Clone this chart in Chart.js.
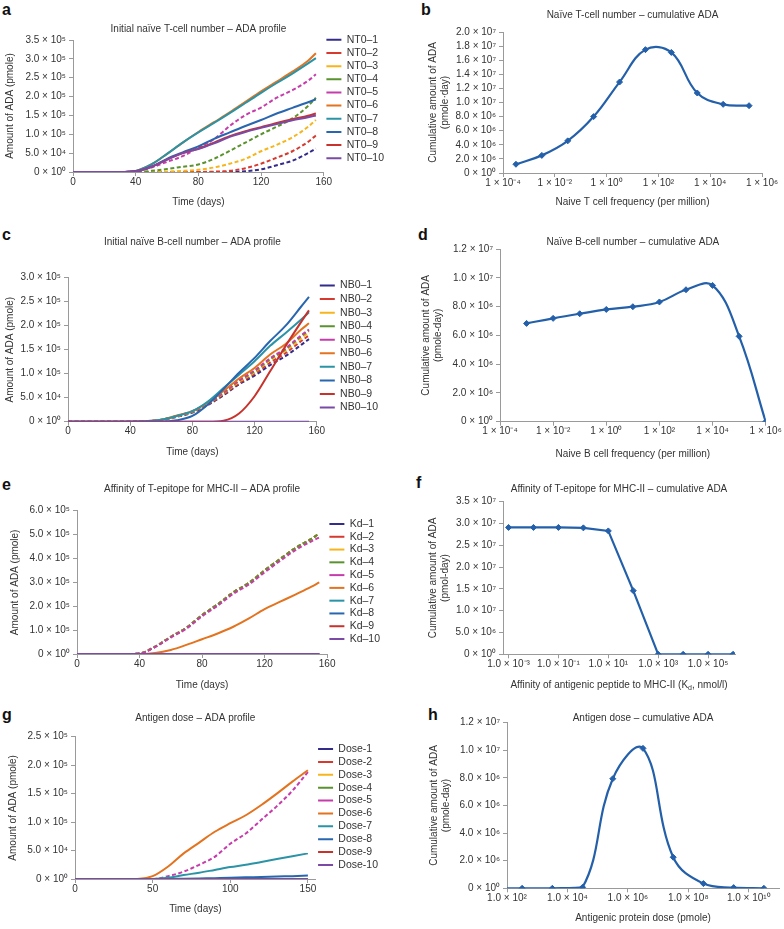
<!DOCTYPE html>
<html>
<head>
<meta charset="utf-8">
<script src="https://cdn.jsdelivr.net/npm/chart.js@4.4.1/dist/chart.umd.min.js"></script>
<style>
html, body { margin: 0; padding: 0; background: #fff; width: 784px; height: 929px; overflow: hidden; position: relative; }
canvas { position: absolute; }
.lt { position: absolute; font: bold 16px "Liberation Sans", Arial, sans-serif; line-height: 16px; color: #111; }
</style>
</head>
<body>
<div class="lt" style="left:2px;top:2px">a</div>
<div class="lt" style="left:421px;top:2px">b</div>
<div class="lt" style="left:2px;top:227px">c</div>
<div class="lt" style="left:418px;top:227px">d</div>
<div class="lt" style="left:2px;top:477px">e</div>
<div class="lt" style="left:416px;top:475px">f</div>
<div class="lt" style="left:2px;top:707px">g</div>
<div class="lt" style="left:428px;top:707px">h</div>

<canvas id="cA" width="394" height="222" style="left:0;top:-12px"></canvas>
<canvas id="cB" width="384" height="210" style="left:400px;top:0"></canvas>
<canvas id="cC" width="388" height="227" style="left:0;top:233px"></canvas>
<canvas id="cD" width="384" height="230" style="left:400px;top:232px"></canvas>
<canvas id="cE" width="390" height="223" style="left:0;top:470px"></canvas>
<canvas id="cF" width="384" height="213" style="left:400px;top:480px"></canvas>
<canvas id="cG" width="388" height="220" style="left:0;top:697px"></canvas>
<canvas id="cH" width="384" height="217" style="left:400px;top:709px"></canvas>

<script>
// --- time axes (days) ---
const tDays = [0, 10, 20, 30, 40, 50, 60, 70, 80, 90, 100, 110, 120, 130, 140, 150, 155];
const tDose = [0, 10, 20, 30, 40, 50, 60, 70, 80, 90, 100, 110, 120, 130, 140, 150];

// --- a: ADA (x1000 pmole) per initial naive T-cell number ---
const nt0Names = ['NT0–1', 'NT0–2', 'NT0–3', 'NT0–4', 'NT0–5', 'NT0–6', 'NT0–7', 'NT0–8', 'NT0–9', 'NT0–10'];
const nt0Values = [
  [0, 0, 0, 0, 0, 0, 0, 0, 0, 0, 0, 2, 7, 18, 30, 50, 62],
  [0, 0, 0, 0, 0, 0, 0, 0, 0, 1, 3, 10, 22, 38, 55, 80, 97],
  [0, 0, 0, 0, 0, 0, 1, 3, 6, 12, 22, 35, 55, 72, 92, 120, 138],
  [0, 0, 0, 0, 0, 3, 8, 14, 20, 35, 56, 78, 100, 120, 142, 175, 197],
  [0, 0, 0, 0, 2, 12, 27, 42, 65, 87, 122, 151, 171, 197, 217, 242, 259],
  [0, 0, 0, 0, 3, 20, 48, 78, 106, 132, 158, 186, 214, 240, 266, 295, 315],
  [0, 0, 0, 0, 3, 20, 48, 78, 105, 130, 156, 183, 210, 236, 261, 288, 302],
  [0, 0, 0, 0, 2, 14, 35, 52, 68, 88, 105, 122, 138, 155, 170, 185, 193],
  [0, 0, 0, 0, 2, 14, 33, 50, 62, 78, 95, 108, 119, 130, 140, 149, 155],
  [0, 0, 0, 0, 2, 14, 33, 50, 61, 76, 93, 106, 117, 127, 137, 145, 150]
];

// --- c: ADA (x1000 pmole) per initial naive B-cell number ---
const nb0Names = ['NB0–1', 'NB0–2', 'NB0–3', 'NB0–4', 'NB0–5', 'NB0–6', 'NB0–7', 'NB0–8', 'NB0–9', 'NB0–10'];
const nb0Values = [
  [0, 0, 0, 0, 0, 1, 3, 10, 19, 35, 55, 78, 96, 118, 137, 160, 172],
  [0, 0, 0, 0, 0, 1, 3, 11, 20, 36, 57, 80, 100, 123, 143, 168, 180],
  [0, 0, 0, 0, 0, 1, 4, 11, 21, 38, 59, 83, 103, 128, 148, 174, 186],
  [0, 0, 0, 0, 0, 1, 4, 12, 21, 38, 60, 85, 105, 130, 151, 178, 190],
  [0, 0, 0, 0, 0, 1, 4, 12, 22, 39, 61, 86, 107, 132, 153, 180, 192],
  [0, 0, 0, 0, 0, 1, 4, 13, 22, 40, 64, 90, 112, 140, 162, 192, 205],
  [0, 0, 0, 0, 0, 1, 4, 12, 22, 42, 70, 98, 126, 158, 185, 213, 228],
  [0, 0, 0, 0, 0, 0, 0, 3, 12, 36, 68, 102, 133, 168, 200, 240, 260],
  [0, 0, 0, 0, 0, 0, 0, 0, 0, 0, 2, 17, 53, 105, 158, 208, 232],
  [0, 0, 0, 0, 0, 0, 0, 0, 0, 0, 0, 0, 0, 0, 0, 0, 0]
];

// --- e: ADA (x1000 pmole) per T-epitope affinity ---
const kdNames = ['Kd–1', 'Kd–2', 'Kd–3', 'Kd–4', 'Kd–5', 'Kd–6', 'Kd–7', 'Kd–8', 'Kd–9', 'Kd–10'];
const kdValues = [
  [0, 0, 0, 0, 2, 31, 72, 110, 163, 208, 258, 298, 350, 398, 445, 482, 505],
  [0, 0, 0, 0, 2, 31, 72, 110, 163, 208, 258, 298, 350, 398, 445, 482, 505],
  [0, 0, 0, 0, 2, 31, 72, 110, 163, 208, 258, 298, 350, 398, 445, 482, 505],
  [0, 0, 0, 0, 2, 31, 72, 110, 163, 208, 258, 298, 350, 398, 445, 482, 505],
  [0, 0, 0, 0, 2, 29, 69, 106, 158, 202, 252, 291, 342, 390, 436, 472, 488],
  [0, 0, 0, 0, 0, 4, 17, 38, 62, 86, 114, 149, 188, 219, 250, 282, 300],
  [0, 0, 0, 0, 0, 0, 0, 0, 0, 0, 0, 0, 0, 0, 0, 0, 0],
  [0, 0, 0, 0, 0, 0, 0, 0, 0, 0, 0, 0, 0, 0, 0, 0, 0],
  [0, 0, 0, 0, 0, 0, 0, 0, 0, 0, 0, 0, 0, 0, 0, 0, 0],
  [0, 0, 0, 0, 0, 0, 0, 0, 0, 0, 0, 0, 0, 0, 0, 0, 0]
];

// --- g: ADA (x1000 pmole) per antigen dose ---
const doseNames = ['Dose-1', 'Dose-2', 'Dose-3', 'Dose-4', 'Dose-5', 'Dose-6', 'Dose-7', 'Dose-8', 'Dose-9', 'Dose-10'];
const doseValues = [
  [0, 0, 0, 0, 0, 0, 0, 0, 0, 0, 0, 0, 0, 0, 0, 0],
  [0, 0, 0, 0, 0, 0, 0, 0, 0, 0, 0, 0, 0, 0, 0, 0],
  [0, 0, 0, 0, 0, 0, 0, 0, 0, 0, 0, 0, 0, 0, 0, 0],
  [0, 0, 0, 0, 0, 0, 0, 0, 0, 0, 0, 0, 0, 0, 0, 0],
  [0, 0, 0, 0, 0, 0, 5, 13, 25, 39, 62, 80, 104, 128, 155, 188],
  [0, 0, 0, 0, 0, 5, 22, 45, 64, 83, 98, 112, 130, 150, 171, 191],
  [0, 0, 0, 0, 0, 0, 2, 7, 11, 16, 21, 25, 30, 35, 40, 45],
  [0, 0, 0, 0, 0, 0, 0, 0.5, 1, 1.5, 2, 3, 3.5, 4.5, 5, 6],
  [0, 0, 0, 0, 0, 0, 0, 0, 0, 0, 0, 0, 0, 0, 0, 0],
  [0, 0, 0, 0, 0, 0, 0, 0, 0, 0, 0, 0, 0, 0, 0, 0]
];

// --- cumulative panels (y in millions of pmole-day) ---
const naiveTFreq = [3.16e-4, 3.16e-3, 3.16e-2, 0.316, 3.16, 31.6, 316, 3162, 31623, 316228];
const naiveTCum = [1.24, 2.5, 4.56, 8.0, 12.9, 17.5, 17.1, 11.35, 9.74, 9.55];
const naiveBFreq = [1e-3, 1e-2, 1e-1, 1, 10, 100, 1e3, 1e4, 1e5, 1e6];
const naiveBCum = [6.83, 7.18, 7.5, 7.8, 7.99, 8.32, 9.17, 9.47, 5.93, 0];
const kdAffinity = [1e-3, 1e-2, 1e-1, 1, 10, 100, 1e3, 1e4, 1e5, 1e6];
const kdCum = [29.1, 29.1, 29.1, 29.0, 28.3, 14.6, 0, 0, 0, 0];
const doseAmount = [31.6, 316, 3162, 31623, 316228, 3.16e6, 3.16e7, 3.16e8, 3.16e9, 3.16e10];
const doseCum = [0, 0, 0, 0.07, 7.94, 10.14, 2.25, 0.34, 0.05, 0];

const seriesColors = ['#332C8A', '#D63A2F', '#F7B51C', '#5A922E', '#C63CAB', '#E3731F', '#2A93A6', '#2866B0', '#C8322D', '#7A4AA5'];
const cumBlue = '#2460AA';

Chart.defaults.font.family = '"Liberation Sans", Arial, Helvetica, sans-serif';
Chart.defaults.font.size = 10;
Chart.defaults.color = '#333';
Chart.defaults.animation = false;
Chart.defaults.responsive = false;
Chart.defaults.events = [];
Chart.defaults.plugins.tooltip.enabled = false;

const SUP = {'0': '⁰', '1': '¹', '2': '²', '3': '³', '4': '⁴', '5': '⁵', '6': '⁶', '7': '⁷', '8': '⁸', '9': '⁹', '-': '⁻'};
function sci(v, dec) {
  if (v === 0) return '0 × 10⁰';
  const e = Math.floor(Math.log10(v) + 1e-9);
  const m = v / Math.pow(10, e);
  return m.toFixed(dec) + ' × 10' + String(e).replace(/./g, c => SUP[c]);
}

function axisLine() {
  return {
    grid: { drawOnChartArea: false, tickLength: 4, color: '#9a9a9a' },
    border: { color: '#9a9a9a' }
  };
}

// time-course panel with legend on the right
function profile(id, p) {
  const datasets = p.names.map((name, i) => ({
    label: name,
    data: p.days.map((d, j) => ({ x: d, y: p.values[i][j] * 1000 })),
    borderColor: seriesColors[i],
    backgroundColor: seriesColors[i],
    borderWidth: 2,
    borderDash: i < 5 ? [4, 2.5] : [],
    pointRadius: 0,
    cubicInterpolationMode: 'monotone',
    order: 10 - i
  }));
  new Chart(document.getElementById(id), {
    type: 'line',
    data: { datasets },
    options: {
      layout: { padding: 0 },
      plugins: {
        title: { display: true, text: p.title, fullSize: false, font: { size: 10, weight: 'normal' }, padding: { top: p.titleTop, bottom: p.titleBottom } },
        legend: {
          position: 'right',
          labels: {
            usePointStyle: true, pointStyle: 'line', pointStyleWidth: 15,
            padding: p.legendGap, font: { size: 10.5 },
            sort: (a, b) => a.datasetIndex - b.datasetIndex
          }
        }
      },
      scales: {
        x: {
          type: 'linear', min: 0, max: p.xMax, ...axisLine(),
          ticks: { padding: 0, maxRotation: 0, autoSkip: false },
          afterBuildTicks: s => { s.ticks = p.xTicks.map(v => ({ value: v })); },
          afterFit: s => { s.height = p.xh; },
          title: { display: true, text: 'Time (days)', padding: { top: 0, bottom: 2 } }
        },
        y: {
          min: 0, max: p.yMax, ...axisLine(),
          ticks: { stepSize: p.yStep, padding: 3, autoSkip: false, callback: v => sci(v, 1) },
          afterFit: s => { s.width = p.yw; },
          title: { display: true, text: 'Amount of ADA (pmole)', padding: { top: p.ytp, bottom: 0 } }
        }
      }
    }
  });
}

// cumulative ADA panel on a log x axis
function cumulative(id, p) {
  new Chart(document.getElementById(id), {
    type: 'line',
    data: {
      datasets: [{
        data: p.x.map((x, j) => ({ x: x, y: p.y[j] * 1e6 })),
        borderColor: cumBlue, backgroundColor: cumBlue,
        borderWidth: 2.2, tension: p.tension,
        pointStyle: 'rectRot', pointRadius: 3, pointBorderWidth: 1
      }]
    },
    options: {
      layout: { padding: { right: p.padR } },
      plugins: {
        legend: { display: false },
        title: { display: true, text: p.title, fullSize: false, font: { size: 10, weight: 'normal' }, padding: { top: p.titleTop, bottom: p.titleBottom } }
      },
      scales: {
        x: {
          type: 'logarithmic', min: p.xMin, max: p.xMax, ...axisLine(),
          ticks: { padding: 0, maxRotation: 0, autoSkip: false, callback: v => sci(v, p.xDec) },
          afterBuildTicks: s => { s.ticks = p.xTicks.map(v => ({ value: v })); },
          afterFit: s => { s.height = p.xh; },
          title: { display: !!p.xTitle, text: p.xTitle || '', padding: { top: 0, bottom: 2 } }
        },
        y: {
          min: 0, max: p.yMax, ...axisLine(),
          ticks: { stepSize: p.yStep, padding: 3, autoSkip: false, callback: v => sci(v, 1) },
          afterFit: s => { s.width = p.yw; },
          title: { display: true, text: ['Cumulative amount of ADA', p.unit], padding: { top: p.ytp, bottom: 0 } }
        }
      }
    },
    plugins: p.extra ? [p.extra] : []
  });
}

// x title of panel f, with the subscript d in K_d
const kdAxisTitle = {
  id: 'kdAxisTitle',
  afterDraw(chart) {
    const ctx = chart.ctx;
    const area = chart.chartArea;
    const parts = [['Affinity of antigenic peptide to MHC-II (K', 10, 0], ['d', 7, 3], [', nmol/l)', 10, 0]];
    ctx.save();
    let total = 0;
    parts.forEach(pt => { ctx.font = pt[1] + 'px "Liberation Sans", Arial, sans-serif'; total += ctx.measureText(pt[0]).width; });
    let x = (area.left + area.right) / 2 - total / 2;
    const y = chart.scales.x.bottom - 8;
    ctx.fillStyle = '#333';
    ctx.textBaseline = 'middle';
    parts.forEach(pt => {
      ctx.font = pt[1] + 'px "Liberation Sans", Arial, sans-serif';
      ctx.fillText(pt[0], x, y + pt[2]);
      x += ctx.measureText(pt[0]).width;
    });
    ctx.restore();
  }
};

profile('cA', { names: nt0Names, values: nt0Values, days: tDays, title: 'Initial naïve T-cell number – ADA profile',
  xMax: 160, xTicks: [0, 40, 80, 120, 160], yMax: 3.5e5, yStep: 5e4, yw: 73, xh: 38, titleTop: 35, titleBottom: 5, legendGap: 2.65, ytp: 4 });
profile('cC', { names: nb0Names, values: nb0Values, days: tDays, title: 'Initial naïve B-cell number – ADA profile',
  xMax: 160, xTicks: [0, 40, 80, 120, 160], yMax: 3e5, yStep: 5e4, yw: 68, xh: 38.3, titleTop: 3, titleBottom: 29.7, legendGap: 3.05, ytp: 4 });
profile('cE', { names: kdNames, values: kdValues, days: tDays, title: 'Affinity of T-epitope for MHC-II – ADA profile',
  xMax: 160, xTicks: [0, 40, 80, 120, 160], yMax: 6e5, yStep: 1e5, yw: 77, xh: 39, titleTop: 13, titleBottom: 15.7, legendGap: 2.28, ytp: 9 });
profile('cG', { names: doseNames, values: doseValues, days: tDose, title: 'Antigen dose – ADA profile',
  xMax: 155, xTicks: [0, 50, 100, 150], yMax: 2.5e5, yStep: 5e4, yw: 75, xh: 38, titleTop: 15, titleBottom: 12.7, legendGap: 2.39, ytp: 7 });

cumulative('cB', { x: naiveTFreq, y: naiveTCum, title: 'Naïve T-cell number – cumulative ADA', unit: '(pmole·day)',
  xTitle: 'Naive T cell frequency (per million)', xMin: 1e-4, xMax: 1e6, xTicks: [1e-4, 1e-2, 1, 1e2, 1e4, 1e6], xDec: 0,
  yMax: 2e7, yStep: 2e6, yw: 103, xh: 37, titleTop: 9, titleBottom: 11, padR: 22, ytp: 27, tension: 0.4 });
cumulative('cD', { x: naiveBFreq, y: naiveBCum, title: 'Naïve B-cell number – cumulative ADA', unit: '(pmole-day)',
  xTitle: 'Naive B cell frequency (per million)', xMin: 1e-4, xMax: 1e6, xTicks: [1e-4, 1e-2, 1, 1e2, 1e4, 1e6], xDec: 0,
  yMax: 1.2e7, yStep: 2e6, yw: 100, xh: 40.3, titleTop: 4, titleBottom: 1, padR: 18.3, ytp: 20.5, tension: 0.4 });
cumulative('cF', { x: kdAffinity, y: kdCum, title: 'Affinity of T-epitope for MHC-II – cumulative ADA', unit: '(pmol-day)',
  xTitle: '', xMin: 6.3e-4, xMax: 1.2e6, xTicks: [1e-3, 1e-1, 1e1, 1e3, 1e5], xDec: 1,
  yMax: 3.5e7, yStep: 5e6, yw: 103, xh: 38.7, titleTop: 3, titleBottom: 6.7, padR: 49, ytp: 27, tension: 0, extra: kdAxisTitle });
cumulative('cH', { x: doseAmount, y: doseCum, title: 'Antigen dose – cumulative ADA', unit: '(pmole-day)',
  xTitle: 'Antigenic protein dose (pmole)', xMin: 1e2, xMax: 1e11, xTicks: [1e2, 1e4, 1e6, 1e8, 1e10], xDec: 1,
  yMax: 1.2e7, yStep: 2e6, yw: 107, xh: 37.7, titleTop: 3, titleBottom: -1.3, padR: 4, ytp: 28, tension: 0.4 });
</script>
</body>
</html>
